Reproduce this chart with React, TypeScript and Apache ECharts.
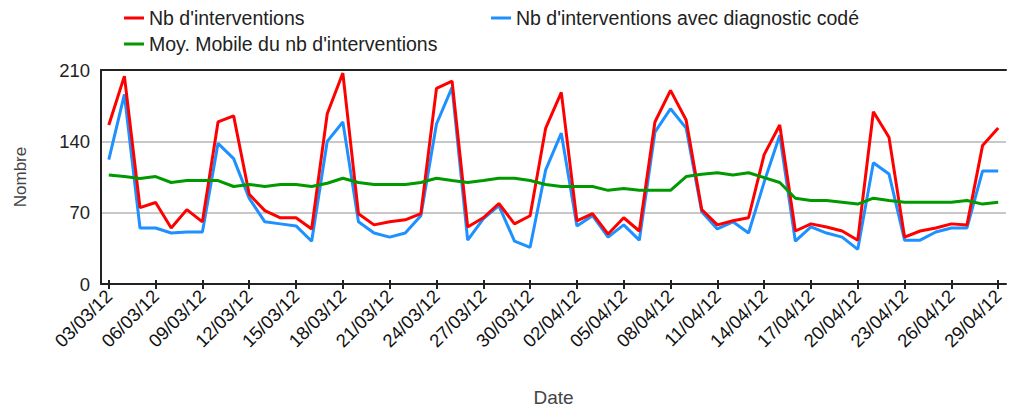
import React, { useEffect, useRef } from "react";
import * as echarts from "echarts";

const dates: string[] = [
  "03/03/12","04/03/12","05/03/12","06/03/12","07/03/12","08/03/12","09/03/12","10/03/12","11/03/12","12/03/12",
  "13/03/12","14/03/12","15/03/12","16/03/12","17/03/12","18/03/12","19/03/12","20/03/12","21/03/12","22/03/12",
  "23/03/12","24/03/12","25/03/12","26/03/12","27/03/12","28/03/12","29/03/12","30/03/12","31/03/12","01/04/12",
  "02/04/12","03/04/12","04/04/12","05/04/12","06/04/12","07/04/12","08/04/12","09/04/12","10/04/12","11/04/12",
  "12/04/12","13/04/12","14/04/12","15/04/12","16/04/12","17/04/12","18/04/12","19/04/12","20/04/12","21/04/12",
  "22/04/12","23/04/12","24/04/12","25/04/12","26/04/12","27/04/12","28/04/12","29/04/12",
];

const interventions: number[] = [
  156, 204, 75, 80, 55, 73, 61, 159, 165, 88, 72, 65, 65, 54, 167, 207, 69, 58, 61, 63,
  69, 192, 199, 56, 65, 79, 59, 67, 153, 188, 62, 69, 49, 65, 52, 159, 190, 161, 73, 58,
  62, 65, 127, 156, 52, 59, 56, 52, 43, 169, 144, 46, 52, 55, 59, 58, 136, 153,
];

const interventionsDiag: number[] = [
  122, 186, 55, 55, 50, 51, 51, 138, 123, 84, 61, 59, 57, 42, 140, 159, 61, 50, 46, 50,
  67, 157, 193, 43, 64, 77, 42, 36, 112, 148, 57, 67, 46, 58, 43, 149, 172, 153, 71, 54,
  61, 50, 100, 146, 42, 56, 50, 46, 34, 119, 108, 43, 43, 51, 55, 55, 111, 111,
];

const movingAvg: number[] = [
  107, 105.5, 103.6, 105.4, 99.6, 101.5, 101.5, 101.5, 95.7, 97.7, 95.7, 97.7, 97.7, 95.7,
  98.9, 103.8, 99.6, 97.7, 97.7, 97.7, 99.6, 103.8, 101.5, 99.6, 101.5, 103.8, 103.8, 101.5, 97.7,
  95.7, 95.7, 95.7, 91.9, 93.8, 91.9, 91.9, 91.9, 105.4, 107.6, 109.2, 107, 109.2, 104.4, 99.6,
  84.2, 81.9, 81.9, 80.3, 78.4, 84.2, 81.9, 80.3, 80.3, 80.3, 80.3, 81.9, 78.4, 80.3,
];

const seriesNames = [
  "Nb d'interventions",
  "Nb d'interventions avec diagnostic codé",
  "Moy. Mobile du nb d'interventions",
];

const FONT = "Liberation Sans, Arial, sans-serif";

export default function App() {
  const ref = useRef<HTMLDivElement>(null);
  useEffect(() => {
    document.body.style.margin = "0";
    if (!ref.current) return;
    const chart = echarts.init(ref.current, null, { renderer: "svg" });
    const legendText = { fontFamily: FONT, fontSize: 19.5, color: "#222", lineHeight: 20 };
    chart.setOption({
      animation: false,
      backgroundColor: "#fff",
      textStyle: { fontFamily: FONT },
      legend: [
        {
          data: [seriesNames[0], seriesNames[2]],
          orient: "vertical",
          left: 124,
          top: 8,
          padding: 0,
          itemGap: 6,
          itemWidth: 20,
          itemHeight: 3,
          icon: "rect",
          textStyle: legendText,
        },
        {
          data: [seriesNames[1]],
          orient: "vertical",
          left: 491,
          top: 8,
          padding: 0,
          itemWidth: 20,
          itemHeight: 3,
          icon: "rect",
          textStyle: legendText,
        },
      ],
      grid: { left: 101, right: 18, top: 70, bottom: 125, containLabel: false },
      xAxis: [
        {
          type: "category",
          data: dates,
          boundaryGap: true,
          name: "Date",
          nameLocation: "middle",
          nameGap: 104,
          nameTextStyle: { fontFamily: FONT, fontSize: 19, color: "#444" },
          axisLine: { show: true, lineStyle: { color: "#222", width: 2 } },
          axisTick: {
            show: true,
            alignWithLabel: true,
            interval: 2,
            length: 5,
            lineStyle: { color: "#222", width: 2 },
          },
          axisLabel: {
            interval: 2,
            rotate: 45,
            margin: 9,
            fontFamily: FONT,
            fontSize: 18.5,
            color: "#111",
          },
          splitLine: { show: false },
        },
        {
          type: "category",
          data: dates,
          position: "top",
          boundaryGap: true,
          axisLine: { show: true, lineStyle: { color: "#222", width: 2 } },
          axisTick: { show: false },
          axisLabel: { show: false },
          splitLine: { show: false },
        },
        {
          type: "category",
          data: dates,
          position: "bottom",
          boundaryGap: true,
          axisLine: { show: false },
          axisTick: {
            show: true,
            inside: true,
            alignWithLabel: true,
            interval: 2,
            length: 4,
            lineStyle: { color: "#222", width: 2 },
          },
          axisLabel: { show: false },
          splitLine: { show: false },
        },
      ],
      yAxis: {
        type: "value",
        min: 0,
        max: 210,
        interval: 70,
        name: "Nombre",
        nameLocation: "middle",
        nameGap: 72,
        nameTextStyle: { fontFamily: FONT, fontSize: 17, color: "#444" },
        axisLine: { show: true, lineStyle: { color: "#222", width: 2 } },
        axisTick: { show: false },
        axisLabel: { fontFamily: FONT, fontSize: 18.5, color: "#222", margin: 11 },
        splitLine: { show: true, lineStyle: { color: "#c8c8c8", width: 2 } },
      },
      series: [
        {
          name: seriesNames[0],
          type: "line",
          data: interventions,
          showSymbol: false,
          symbol: "none",
          z: 3,
          color: "#ff0000",
          lineStyle: { color: "#ff0000", width: 3 },
        },
        {
          name: seriesNames[1],
          type: "line",
          data: interventionsDiag,
          showSymbol: false,
          symbol: "none",
          z: 2,
          color: "#1e90ff",
          lineStyle: { color: "#1e90ff", width: 3 },
        },
        {
          name: seriesNames[2],
          type: "line",
          data: movingAvg,
          showSymbol: false,
          symbol: "none",
          z: 4,
          color: "#009900",
          lineStyle: { color: "#009900", width: 3 },
        },
      ],
    });
    return () => chart.dispose();
  }, []);
  return <div ref={ref} style={{ width: 1024, height: 412 }} />;
}
